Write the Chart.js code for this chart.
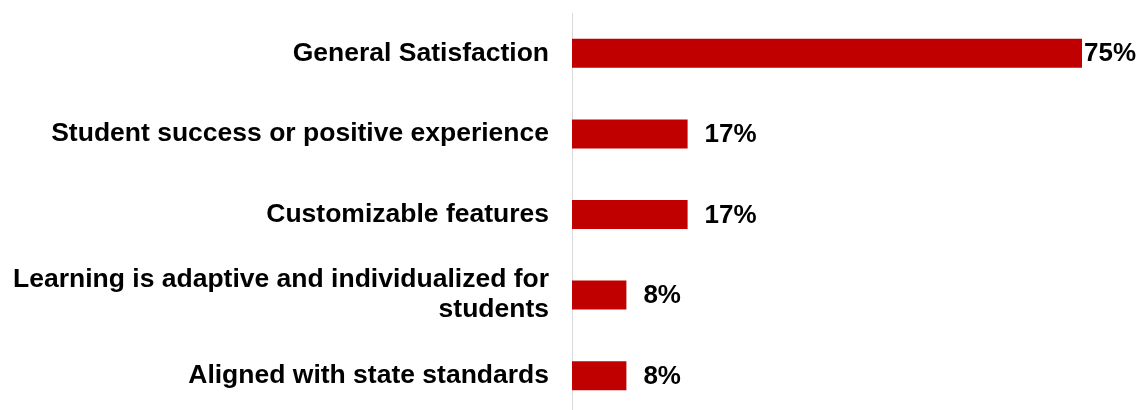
<!DOCTYPE html>
<html>
<head>
<meta charset="utf-8">
<script src="https://cdn.jsdelivr.net/npm/chart.js@4"></script>
<style>
html,body{margin:0;padding:0;background:#fff;overflow:hidden;}
#wrap{width:1138px;height:418px;position:relative;}
</style>
</head>
<body>
<div id="wrap"><canvas id="c"></canvas></div>
<script>
const categories = [
  "General Satisfaction",
  "Student success or positive experience",
  "Customizable features",
  ["Learning is adaptive and individualized for", "students"],
  "Aligned with state standards"
];
const values = [75, 17, 17, 8, 8];
const valueLabels = ["75%", "17%", "17%", "8%", "8%"];

const labelPlugin = {
  id: 'valueLabels',
  afterDatasetsDraw(chart) {
    const ctx = chart.ctx;
    const meta = chart.getDatasetMeta(0);
    ctx.save();
    ctx.font = 'bold 26px "Liberation Sans", Arial, sans-serif';
    ctx.fillStyle = '#000';
    ctx.textBaseline = 'middle';
    ctx.textAlign = 'left';
    meta.data.forEach((bar, i) => {
      const t = valueLabels[i];
      const w = ctx.measureText(t).width;
      let x = bar.x + 17;
      if (x + w > chart.width - 2) x = bar.x + 2;
      ctx.fillText(t, x, bar.y + 1);
    });
    ctx.restore();
  }
};

new Chart(document.getElementById('c'), {
  type: 'bar',
  data: {
    labels: categories,
    datasets: [{
      data: values,
      backgroundColor: '#C00000',
      borderWidth: 0,
      categoryPercentage: 1,
      barPercentage: 0.36
    }]
  },
  options: {
    indexAxis: 'y',
    responsive: true,
    maintainAspectRatio: false,
    animation: false,
    layout: { padding: { top: 13, bottom: 2, right: 22, left: 0 } },
    plugins: { legend: { display: false }, tooltip: { enabled: false } },
    scales: {
      x: {
        display: false,
        min: 0,
        max: 80
      },
      y: {
        afterFit(s) { s.width = 572; s.paddingTop = 0; s.paddingBottom = 0; },
        grid: { display: false },
        border: { display: true, color: '#d9d9d9', width: 1 },
        ticks: {
          color: '#000',
          padding: 15,
          autoSkip: false,
          font: { family: '"Liberation Sans", Arial, sans-serif', size: 26.5, weight: 'bold', lineHeight: 1.13 }
        }
      }
    }
  },
  plugins: [labelPlugin]
});
</script>
</body>
</html>
